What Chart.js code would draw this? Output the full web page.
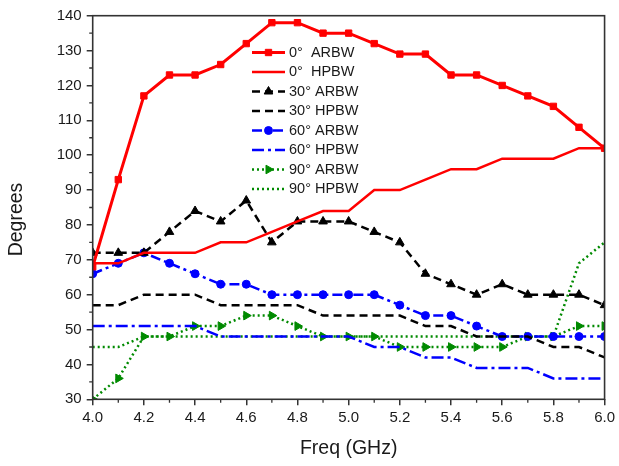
<!DOCTYPE html>
<html><head><meta charset="utf-8">
<script src="https://cdn.jsdelivr.net/npm/chart.js@4.4.0/dist/chart.umd.min.js"></script>
<style>html,body{margin:0;padding:0;background:#fff}#wrap{width:619px;height:466px}</style>
</head><body><div id="wrap"><canvas id="c" width="619" height="466"></canvas></div>
<script>
const freq = [4.0,4.1,4.2,4.3,4.4,4.5,4.6,4.7,4.8,4.9,5.0,5.1,5.2,5.3,5.4,5.5,5.6,5.7,5.8,5.9,6.0];
const arbw0  = [68,93,117,123,123,126,132,138,138,135,135,132,129,129,123,123,120,117,114,108,102];
const hpbw0  = [69,69,72,72,72,75,75,78,81,84,84,90,90,93,96,96,99,99,99,102,102];
const arbw30 = [72,72,72,78,84,81,87,75,81,81,81,78,75,66,63,60,63,60,60,60,57];
const hpbw30 = [57,57,60,60,60,57,57,57,57,54,54,54,54,51,51,48,48,48,45,45,42];
const arbw60 = [66,69,72,69,66,63,63,60,60,60,60,60,57,54,54,51,48,48,48,48,48];
const hpbw60 = [51,51,51,51,51,48,48,48,48,48,48,45,45,42,42,39,39,39,36,36,36];
const arbw90 = [30,36,48,48,51,51,54,54,51,48,48,48,45,45,45,45,45,48,48,51,51];
const hpbw90 = [45,45,48,48,48,48,48,48,48,48,48,48,48,48,48,48,48,48,48,69,75];
const seriesLabels = ['0\u00B0  ARBW','0\u00B0  HPBW','30\u00B0 ARBW','30\u00B0 HPBW','60\u00B0 ARBW','60\u00B0 HPBW','90\u00B0 ARBW','90\u00B0 HPBW'];
const xTitle = 'Freq (GHz)';
const yTitle = 'Degrees';
const xTicks = [4.0,4.2,4.4,4.6,4.8,5.0,5.2,5.4,5.6,5.8,6.0];
const xMinor = [4.1,4.3,4.5,4.7,4.9,5.1,5.3,5.5,5.7,5.9];
const yTicks = [30,40,50,60,70,80,90,100,110,120,130,140];
const yMinor = [35,45,55,65,75,85,95,105,115,125,135];

const RED='#ff0000', BLK='#000000', BLU='#0000ff', GRN='#008a00';
const FONT = '"Liberation Sans", Arial, sans-serif';
const pts = arr => freq.map((f,i)=>({x:f,y:arr[i]}));
function ds(label, arr, color, width, dash, style, radius, rot){
  return {label, data: pts(arr), borderColor: color, backgroundColor: color,
    borderWidth: width, borderDash: dash, pointStyle: style || 'circle',
    pointRadius: radius || 0, pointHoverRadius: radius || 0, pointRotation: rot || 0,
    pointBackgroundColor: color, pointBorderColor: color, pointBorderWidth: 1,
    tension: 0, fill: false};
}
const datasets = [
  ds(seriesLabels[0], arbw0, RED, 3, [], 'rect', 4.5),
  ds(seriesLabels[1], hpbw0, RED, 2.5, []),
  ds(seriesLabels[2], arbw30, BLK, 2.5, [8,5], 'triangle', 5),
  ds(seriesLabels[3], hpbw30, BLK, 2.5, [8,5]),
  ds(seriesLabels[4], arbw60, BLU, 2.5, [10,4,3,4], 'circle', 4),
  ds(seriesLabels[5], hpbw60, BLU, 2.5, [12,4,3,4]),
  ds(seriesLabels[6], arbw90, GRN, 2.5, [2,3], 'triangle', 5, 90),
  ds(seriesLabels[7], hpbw90, GRN, 2.5, [2,3])
];

const framePlugin = {
  id: 'frame',
  afterDraw(chart){
    const {ctx, chartArea: a, scales: {x, y}} = chart;
    ctx.save();
    ctx.strokeStyle = '#333'; ctx.lineWidth = 1.6; ctx.setLineDash([]);
    ctx.strokeRect(a.left, a.top, a.right - a.left, a.bottom - a.top);
    ctx.lineWidth = 1.3;
    ctx.beginPath();
    xMinor.forEach(v => { const p = x.getPixelForValue(v); ctx.moveTo(p, a.bottom); ctx.lineTo(p, a.bottom + 3.5); });
    yMinor.forEach(v => { const p = y.getPixelForValue(v); ctx.moveTo(a.left, p); ctx.lineTo(a.left - 3.5, p); });
    ctx.stroke();
    // y axis title
    ctx.save();
    ctx.translate(17, (a.top + a.bottom) / 2 + 12);
    ctx.rotate(-Math.PI / 2);
    ctx.fillStyle = '#1a1a1a'; ctx.font = '19.5px ' + FONT;
    ctx.textAlign = 'center'; ctx.textBaseline = 'middle';
    ctx.fillText(yTitle, 0, 0);
    ctx.restore();
    // legend
    chart.data.datasets.forEach((d, i) => {
      const yy = 52.5 + i * 19.5;
      ctx.save();
      ctx.strokeStyle = d.borderColor; ctx.lineWidth = d.borderWidth; ctx.setLineDash(d.borderDash || []);
      ctx.beginPath(); ctx.moveTo(252, yy); ctx.lineTo(285, yy); ctx.stroke();
      ctx.setLineDash([]);
      if (d.pointRadius > 0) {
        ctx.fillStyle = d.borderColor; ctx.strokeStyle = d.borderColor; ctx.lineWidth = 1;
        Chart.helpers.drawPoint(ctx, {pointStyle: d.pointStyle, radius: d.pointRadius, rotation: d.pointRotation || 0, borderWidth: 1}, 268.5, yy);
      }
      ctx.fillStyle = '#1a1a1a'; ctx.font = '14.5px ' + FONT;
      ctx.textBaseline = 'middle'; ctx.textAlign = 'left';
      ctx.fillText(d.label, 289, yy);
      ctx.restore();
    });
    ctx.restore();
  }
};

Chart.defaults.font.family = FONT;
Chart.defaults.color = '#1a1a1a';

new Chart(document.getElementById('c'), {
  type: 'line',
  data: { datasets },
  options: {
    responsive: false, animation: false, devicePixelRatio: 1,
    layout: { padding: { top: 15.7, right: 12.3, left: 0, bottom: 0 } },
    plugins: { legend: { display: false }, tooltip: { enabled: false } },
    scales: {
      x: {
        type: 'linear', min: 4.0, max: 6.0,
        afterBuildTicks: s => { s.ticks = xTicks.map(v => ({value: v})); },
        afterFit: s => { s.height = 66.7; },
        grid: { drawOnChartArea: false, drawTicks: true, tickLength: 6, color: '#333', lineWidth: 1.5 },
        border: { display: false },
        ticks: { padding: 4, font: { size: 15 }, color: '#1a1a1a', maxRotation: 0, callback: v => Number(v).toFixed(1) },
        title: { display: true, text: xTitle, font: { size: 19.5 }, padding: { top: 0, bottom: 5.3 }, color: '#1a1a1a' }
      },
      y: {
        type: 'linear', min: 30, max: 140,
        afterBuildTicks: s => { s.ticks = yTicks.map(v => ({value: v})); },
        afterFit: s => { s.width = 92.7; },
        grid: { drawOnChartArea: false, drawTicks: true, tickLength: 6, color: '#333', lineWidth: 1.5 },
        border: { display: false },
        ticks: { padding: 5, font: { size: 15 }, color: '#1a1a1a' },
        title: { display: false }
      }
    }
  },
  plugins: [framePlugin]
});
</script>
</body></html>
